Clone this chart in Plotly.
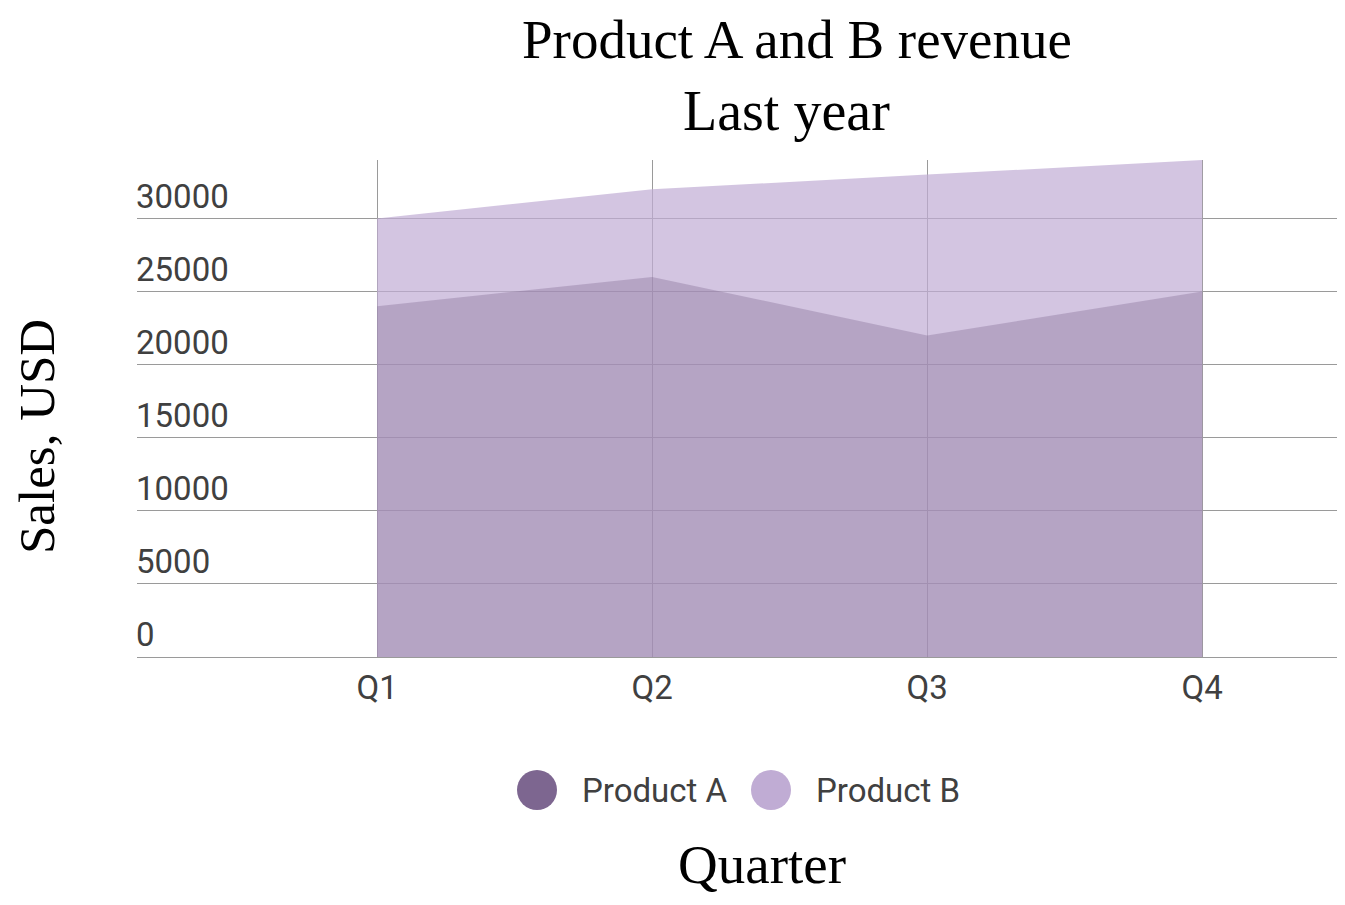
"""
Product A and B revenue by quarter, overlapping area chart.
"""

import plotly.graph_objects as go

quarters = ["Q1", "Q2", "Q3", "Q4"]
product_a = [24000, 26000, 22000, 25000]
product_b = [30000, 32000, 33000, 34000]
y_ticks = [0, 5000, 10000, 15000, 20000, 25000, 30000]

color_a = "#7d6690"
color_b = "#c0acd4"
tick_font = dict(family="Roboto", size=33, color="#404040")
serif = "Liberation Serif"

# page body has an 8px margin, so the figure is drawn 8px in from the corner
W, H = 1329, 889
L, R, T, B = 129, 0, 152, 240
PW, PH = W - L - R, H - T - B


def px(x):
    return (x - L) / PW


def py(y):
    return (H - B - y) / PH


x_pos = list(range(len(quarters)))

fig = go.Figure()
fig.add_trace(
    go.Scatter(
        name="Product B",
        x=x_pos,
        y=product_b,
        mode="lines",
        line=dict(width=0),
        fill="tozeroy",
        fillcolor="rgba(192,172,212,0.70)",
        showlegend=False,
    )
)
fig.add_trace(
    go.Scatter(
        name="Product A",
        x=x_pos,
        y=product_a,
        mode="lines",
        line=dict(width=0),
        fill="tozeroy",
        fillcolor="rgba(125,102,144,0.35)",
        showlegend=False,
    )
)

# custom legend: big round swatches
legend_items = [("Product A", color_a, 529), ("Product B", color_b, 763)]
shapes = []
annotations = []
for label, col, cx in legend_items:
    shapes.append(
        dict(
            type="circle",
            xref="paper",
            yref="paper",
            x0=px(cx - 20),
            x1=px(cx + 20),
            y0=py(782 + 20),
            y1=py(782 - 20),
            fillcolor=col,
            line=dict(width=0),
        )
    )
    annotations.append(
        dict(
            text=label,
            xref="paper",
            yref="paper",
            x=px(cx + 43),
            y=py(782),
            xanchor="left",
            yanchor="middle",
            showarrow=False,
            font=tick_font,
        )
    )

# titles
annotations += [
    dict(
        text="Product A and B revenue",
        xref="paper", yref="paper",
        x=px(789), y=py(32),
        xanchor="center", yanchor="middle",
        borderpad=0,
        showarrow=False,
        font=dict(family=serif, size=55, color="#000000"),
    ),
    dict(
        text="Last year",
        xref="paper", yref="paper",
        x=px(778), y=py(103),
        xanchor="center", yanchor="middle",
        showarrow=False,
        font=dict(family=serif, size=56, color="#000000"),
    ),
    dict(
        text="Sales, USD",
        xref="paper", yref="paper",
        x=px(29), y=py(429),
        textangle=-90,
        xanchor="center", yanchor="middle",
        showarrow=False,
        font=dict(family=serif, size=51, color="#000000"),
    ),
    dict(
        text="Quarter",
        xref="paper", yref="paper",
        x=px(754), y=py(856),
        xanchor="center", yanchor="middle",
        borderpad=0,
        showarrow=False,
        font=dict(family=serif, size=55, color="#000000"),
    ),
]

fig.update_layout(
    width=W,
    height=H,
    margin=dict(l=L, r=R, t=T, b=B),
    paper_bgcolor="white",
    plot_bgcolor="white",
    xaxis=dict(
        range=[-0.873, 3.49],
        tickvals=x_pos,
        ticktext=quarters,
        showgrid=True,
        gridcolor="#9a9a9a",
        gridwidth=1,
        zeroline=False,
        showline=False,
        ticks="",
        ticklabelstandoff=8,
        tickfont=tick_font,
    ),
    yaxis=dict(
        range=[0, 34000],
        tickvals=y_ticks,
        ticktext=[str(v) for v in y_ticks],
        ticklabelposition="inside top",
        ticklabelshift=1,
        ticklabelstandoff=-4,
        showgrid=True,
        gridcolor="#9a9a9a",
        gridwidth=1,
        zeroline=True,
        zerolinecolor="#9a9a9a",
        zerolinewidth=1,
        showline=False,
        ticks="",
        tickfont=tick_font,
    ),
    shapes=shapes,
    annotations=annotations,
    showlegend=False,
)

fig.write_html("out.html")
